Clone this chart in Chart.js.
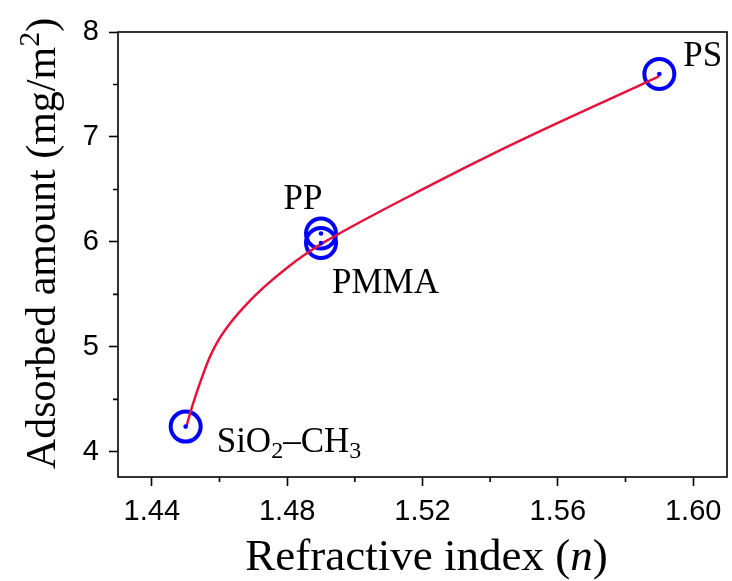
<!DOCTYPE html>
<html>
<head>
<meta charset="utf-8">
<script src="https://cdn.jsdelivr.net/npm/chart.js@4"></script>
<style>
  html, body { margin: 0; padding: 0; background: #ffffff; }
  #wrap { width: 732px; height: 581px; }
</style>
</head>
<body>
<div id="wrap"><canvas id="chart" width="732" height="581"></canvas></div>
<script>
// Measured samples
const materials = ['SiO2–CH3', 'PP', 'PMMA', 'PS'];
const refractiveIndex = [1.450, 1.490, 1.490, 1.590];
const adsorbedAmount = [4.24, 6.08, 5.99, 7.60];

// Fitted trend through the samples
const fitX = [1.4502, 1.4520, 1.4545, 1.4571, 1.4600, 1.4635, 1.4684, 1.4739, 1.4798, 1.4857, 1.4916, 1.5230, 1.5427, 1.5624, 1.5821, 1.5900];
const fitY = [4.24, 4.44, 4.68, 4.90, 5.08, 5.24, 5.42, 5.59, 5.75, 5.89, 6.01, 6.55, 6.87, 7.17, 7.46, 7.58];

// Axis ticks
const xMajorTicks = [1.44, 1.48, 1.52, 1.56, 1.60];
const xMinorTicks = [1.46, 1.50, 1.54, 1.58];
const yMajorTicks = [4, 5, 6, 7, 8];
const yMinorTicks = [4.5, 5.5, 6.5, 7.5];

const SERIF = '"Liberation Serif", "Times New Roman", serif';
const SANS = '"Liberation Sans", Arial, sans-serif';
const INK = '#000000';

// Draw a run of text pieces (normal, italic, sub/superscript) as one line
function drawRich(ctx, parts, x, y, align, rotation) {
  ctx.save();
  ctx.translate(x, y);
  ctx.rotate(rotation || 0);
  ctx.textAlign = 'left';
  ctx.textBaseline = 'alphabetic';
  ctx.fillStyle = INK;
  const widths = parts.map(p => {
    ctx.font = (p.style || '') + ' ' + p.size + 'px ' + SERIF;
    return ctx.measureText(p.text).width;
  });
  const total = widths.reduce((a, b) => a + b, 0);
  let cx = align === 'center' ? -total / 2 : (align === 'right' ? -total : 0);
  parts.forEach((p, i) => {
    ctx.font = (p.style || '') + ' ' + p.size + 'px ' + SERIF;
    ctx.fillText(p.text, cx, -(p.shift || 0));
    cx += widths[i];
  });
  ctx.restore();
}

const LABEL_SIZE = 35;
const SUB_SIZE = 24;
const pointLabels = {
  'SiO2–CH3': { dx: 31, dy: 25, align: 'left', parts: [
    { text: 'SiO', size: LABEL_SIZE },
    { text: '2', size: SUB_SIZE, shift: -6 },
    { text: '–CH', size: LABEL_SIZE },
    { text: '3', size: SUB_SIZE, shift: -6 }
  ] },
  'PP': { dx: -18, dy: -25, align: 'center', parts: [{ text: 'PP', size: LABEL_SIZE }] },
  'PMMA': { dx: 11, dy: 50, align: 'left', parts: [{ text: 'PMMA', size: LABEL_SIZE }] },
  'PS': { dx: 24, dy: -8, align: 'left', parts: [{ text: 'PS', size: LABEL_SIZE }] }
};

const decorations = {
  id: 'decorations',
  afterDatasetsDraw(chart) {
    const { ctx, chartArea: a, scales: { x, y } } = chart;
    ctx.save();
    // frame
    ctx.strokeStyle = INK;
    ctx.lineWidth = 1.6;
    ctx.strokeRect(a.left, a.top, a.right - a.left, a.bottom - a.top);
    // minor ticks
    ctx.beginPath();
    xMinorTicks.forEach(v => {
      const px = x.getPixelForValue(v);
      ctx.moveTo(px, a.bottom);
      ctx.lineTo(px, a.bottom + 5);
    });
    yMinorTicks.forEach(v => {
      const py = y.getPixelForValue(v);
      ctx.moveTo(a.left, py);
      ctx.lineTo(a.left - 5, py);
    });
    ctx.stroke();
    // point labels
    materials.forEach((m, i) => {
      const lab = pointLabels[m];
      const px = x.getPixelForValue(refractiveIndex[i]);
      const py = y.getPixelForValue(adsorbedAmount[i]);
      drawRich(ctx, lab.parts, px + lab.dx, py + lab.dy, lab.align, 0);
    });
    // axis titles
    const cx = (a.left + a.right) / 2;
    drawRich(ctx, [
      { text: 'Refractive index (', size: 45 },
      { text: 'n', size: 45, style: 'italic' },
      { text: ')', size: 45 }
    ], cx + 4, 570, 'center', 0);
    const cy = (a.top + a.bottom) / 2 - 11;
    drawRich(ctx, [
      { text: 'Adsorbed amount (mg/m', size: 42 },
      { text: '2', size: 30, shift: 16 },
      { text: ')', size: 42 }
    ], 55, cy, 'center', -Math.PI / 2);
    ctx.restore();
  }
};

const tickFont = { family: SANS, size: 29 };

new Chart(document.getElementById('chart'), {
  type: 'scatter',
  data: {
    datasets: [
      {
        label: 'center',
        data: refractiveIndex.map((v, i) => ({ x: v, y: adsorbedAmount[i] })),
        pointRadius: 2.3,
        pointHoverRadius: 2.3,
        pointBackgroundColor: '#0000ff',
        pointBorderWidth: 0,
        showLine: false,
        order: 0
      },
      {
        label: 'fit',
        data: fitX.map((v, i) => ({ x: v, y: fitY[i] })),
        showLine: true,
        borderColor: '#e5123c',
        borderWidth: 2.5,
        pointRadius: 0,
        cubicInterpolationMode: 'monotone',
        fill: false,
        order: 1
      },
      {
        label: 'samples',
        data: refractiveIndex.map((v, i) => ({ x: v, y: adsorbedAmount[i] })),
        pointRadius: 15,
        pointHoverRadius: 15,
        pointBorderColor: '#0000ff',
        pointBackgroundColor: 'rgba(0,0,0,0)',
        pointBorderWidth: 4,
        showLine: false,
        order: 2
      }
    ]
  },
  options: {
    responsive: false,
    devicePixelRatio: 1,
    animation: false,
    events: [],
    layout: { autoPadding: false, padding: { left: 0, right: 5, top: 32, bottom: 0 } },
    plugins: { legend: { display: false }, tooltip: { enabled: false } },
    scales: {
      x: {
        type: 'linear',
        min: 1.43,
        max: 1.61,
        afterBuildTicks: s => { s.ticks = xMajorTicks.map(v => ({ value: v })); },
        afterFit: s => { s.height = 104; s.paddingLeft = 0; s.paddingRight = 0; },
        ticks: {
          font: tickFont, color: INK, padding: 9, maxRotation: 0, autoSkip: false,
          callback: v => Number(v).toFixed(2)
        },
        grid: { drawOnChartArea: false, drawTicks: true, tickLength: 9, tickWidth: 1.6, tickColor: INK },
        border: { display: false }
      },
      y: {
        type: 'linear',
        min: 3.76,
        max: 8,
        afterBuildTicks: s => { s.ticks = yMajorTicks.map(v => ({ value: v })); },
        afterFit: s => { s.width = 118; s.paddingTop = 0; s.paddingBottom = 0; },
        ticks: {
          font: tickFont, color: INK, padding: 10, autoSkip: false,
          callback: v => String(v)
        },
        grid: { drawOnChartArea: false, drawTicks: true, tickLength: 9, tickWidth: 1.6, tickColor: INK },
        border: { display: false }
      }
    }
  },
  plugins: [decorations]
});
</script>
</body>
</html>
